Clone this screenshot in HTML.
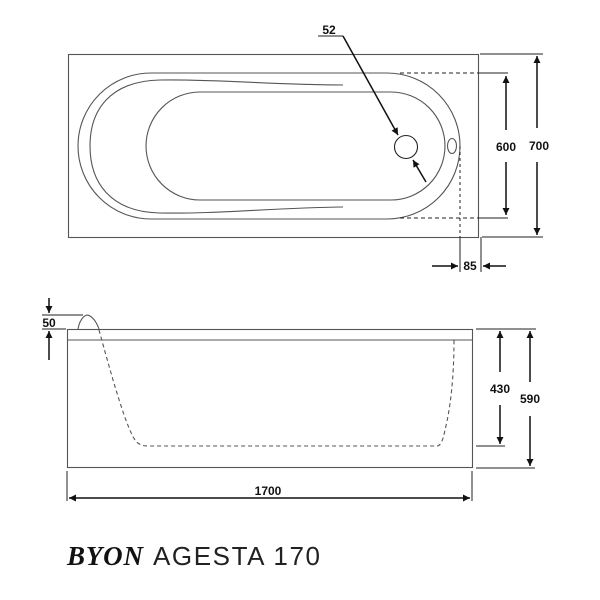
<!DOCTYPE html>
<html><head><meta charset="utf-8"><style>
html,body{margin:0;padding:0;background:#fff;}
svg{display:block;}
</style></head><body>
<svg width="600" height="600" viewBox="0 0 600 600" xmlns="http://www.w3.org/2000/svg">
<defs>
<marker id="a" viewBox="0 0 10 10" refX="10" refY="5" markerWidth="7" markerHeight="7" orient="auto-start-reverse" markerUnits="userSpaceOnUse"><path d="M0,0 L10,5 L0,10 z" fill="#111"/></marker>
</defs>
<g fill="none" stroke="#555" stroke-width="1.1">
<rect x="68.5" y="54.5" width="410" height="183"/>
<path d="M151,73 H387 A73,73 0 0 1 387,219 H151 A73,73 0 0 1 151,73 Z"/>
<path d="M343,85 C270,85 220,79 160,80 C110,81 90,110 90,146 C90,182 110,212 160,213 C220,214 270,208 343,207"/>
<path d="M200,92 H391 A54,54 0 0 1 391,200 H200 A54,54 0 0 1 200,92 Z"/>
<circle cx="406" cy="147" r="11.5" stroke="#222"/>
<ellipse cx="452" cy="146" rx="4.5" ry="7.5"/>
</g>
<g stroke="#222" stroke-width="1" fill="none">
<line x1="400" y1="73" x2="480" y2="73" stroke-dasharray="4,3"/>
<line x1="480" y1="73" x2="508" y2="73"/>
<line x1="400" y1="218" x2="480" y2="218" stroke-dasharray="4,3"/>
<line x1="480" y1="218" x2="508" y2="218"/>
<line x1="460" y1="146" x2="460" y2="237" stroke-dasharray="3,3"/>
<line x1="460" y1="237" x2="460" y2="272"/>
<line x1="481" y1="237" x2="481" y2="272"/>
<line x1="480" y1="54" x2="543" y2="54"/>
<line x1="482" y1="237" x2="543" y2="237"/>
<line x1="318" y1="36" x2="343" y2="36"/>
</g>
<g stroke="#111" stroke-width="1.5" fill="none">
<line x1="506" y1="130" x2="506" y2="76" marker-end="url(#a)"/>
<line x1="506" y1="162" x2="506" y2="215" marker-end="url(#a)"/>
<line x1="537" y1="128" x2="537" y2="56" marker-end="url(#a)"/>
<line x1="537" y1="162" x2="537" y2="235" marker-end="url(#a)"/>
<line x1="432" y1="266" x2="458" y2="266" marker-end="url(#a)"/>
<line x1="506" y1="266" x2="483" y2="266" marker-end="url(#a)"/>
<line x1="343" y1="36" x2="398" y2="135" marker-end="url(#a)"/>
<line x1="426" y1="182" x2="413" y2="160" marker-end="url(#a)"/>
</g>
<g font-family="Liberation Sans, sans-serif" font-weight="bold" font-size="12" fill="#111" text-anchor="middle">
<text x="329" y="34">52</text>
<text x="506" y="151">600</text>
<text x="539" y="150">700</text>
<text x="470" y="270">85</text>
<text x="49" y="327">50</text>
<text x="500" y="393">430</text>
<text x="530" y="403">590</text>
<text x="268" y="495">1700</text>
</g>
<g fill="none" stroke="#555" stroke-width="1.1">
<rect x="67.5" y="329.5" width="405" height="138"/>
<line x1="68" y1="340" x2="472" y2="340"/>
<path d="M78,329 C80,318 86,313 90,316 C95,319 98,326 99,329"/>
<path d="M99,330 C110,370 125,425 135,440 Q139,446 148,446 H437 Q442,446 445,430 C450,410 454,380 454,340" stroke-dasharray="4,3"/>
</g>
<g stroke="#222" stroke-width="1" fill="none">
<line x1="42" y1="315" x2="83" y2="315"/>
<line x1="42" y1="329" x2="66" y2="329"/>
<line x1="476" y1="329" x2="536" y2="329"/>
<line x1="476" y1="446" x2="505" y2="446"/>
<line x1="476" y1="468" x2="535" y2="468"/>
<line x1="67" y1="471" x2="67" y2="501"/>
<line x1="472" y1="471" x2="472" y2="501"/>
</g>
<g stroke="#111" stroke-width="1.5" fill="none">
<line x1="49" y1="298" x2="49" y2="313" marker-end="url(#a)"/>
<line x1="49" y1="360" x2="49" y2="331" marker-end="url(#a)"/>
<line x1="500" y1="372" x2="500" y2="331" marker-end="url(#a)"/>
<line x1="500" y1="405" x2="500" y2="444" marker-end="url(#a)"/>
<line x1="530" y1="382" x2="530" y2="331" marker-end="url(#a)"/>
<line x1="530" y1="416" x2="530" y2="466" marker-end="url(#a)"/>
<line x1="80" y1="498" x2="69" y2="498" marker-end="url(#a)"/>
<line x1="80" y1="498" x2="470" y2="498" marker-end="url(#a)"/>
</g>
<text x="67" y="565" font-family="Liberation Serif, serif" font-style="italic" font-weight="bold" font-size="27" fill="#111" textLength="76">BYON</text>
<text x="153" y="565" font-family="Liberation Sans, sans-serif" font-size="26" fill="#222" textLength="167">AGESTA 170</text>
</svg>
</body></html>
